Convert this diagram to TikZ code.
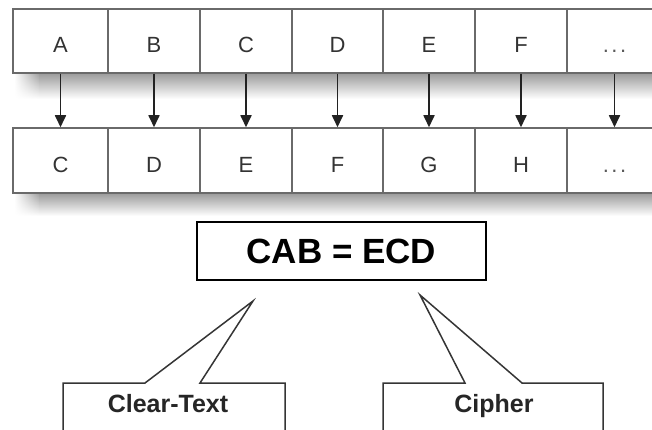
\documentclass[tikz,border=0pt]{standalone}
\usepackage{fontspec}
\setmainfont{Liberation Sans}
\usetikzlibrary{arrows.meta,fadings}

\definecolor{cellgray}{HTML}{6A6A6A}
\definecolor{lettergray}{HTML}{333333}
\definecolor{dotgray}{HTML}{5A5A5A}
\definecolor{arrowgray}{HTML}{222222}
\definecolor{calloutline}{HTML}{353535}
\definecolor{shadowgray}{HTML}{9A9A9A}

% soft entry of the shadow band on its left end
\tikzfading[name=shadowentry, left color=transparent!100, right color=transparent!0]

\newcommand{\celldots}{\textcolor{dotgray}{.\kern2.5pt.\kern2.5pt.}}

\begin{document}
\begin{tikzpicture}[x=1pt,y=-1pt,
  shadowband/.style={top color=shadowgray, bottom color=white, draw=none},
  cell/.style={rectangle, draw=cellgray, line width=1.5pt, fill=white,
    inner sep=0pt, text height=24pt, text depth=0pt,
    font=\fontsize{22}{22}\selectfont, text=lettergray},
  arr/.style={draw=arrowgray, line width=1.7pt,
    -{Triangle[width=11pt,length=12pt]}},
  eqbox/.style={rectangle, draw=black, line width=1.6pt, fill=white,
    minimum width=289pt, minimum height=58pt, inner sep=0pt,
    font=\bfseries\fontsize{35}{35}\selectfont},
  calloutshape/.style={draw=calloutline, line width=1.5pt, fill=white,
    line join=miter},
  callouttext/.style={anchor=base, inner sep=0pt, text=black!85,
    font=\bfseries\fontsize{25}{25}\selectfont}
]
\useasboundingbox (0,0) rectangle (652,430);
\clip (0,0) rectangle (652,430);

% drop shadows beneath the two rows
\foreach \ytop/\ybot in {73/99, 193/216}{
  \shade[shadowband, path fading=shadowentry] (14,\ytop) rectangle (40,\ybot);
  \shade[shadowband] (39.5,\ytop) rectangle (662,\ybot);
}

% the two alphabets, shifted by two letters
\foreach \l/\r/\p/\c [count=\i] in
  {13/108/A/C, 108/200/B/D, 200/292/C/E, 292/383/D/F,
   383/475/E/G, 475/567/F/H, 567/662/\celldots/\celldots}
{
  \node[cell, minimum width={\r-\l}, minimum height=64pt]
    (t\i) at ({(\l+\r)/2},41) {\p};
  \node[cell, minimum width={\r-\l}, minimum height=65pt]
    (b\i) at ({(\l+\r)/2},160.5) {\c};
}

% mapping arrows
\foreach \i in {1,...,7}
  \draw[arr] (t\i) -- (b\i);

% encrypted word
\node[eqbox] (eq) at (341.5,251) {CAB = ECD};

% callout for the clear text
\coordinate (cttip) at (253,301);
\draw[calloutshape] (63,445) -- (63,383) -- (145,383) -- (cttip)
  -- (200,383) -- (285,383) -- (285,445);
\node[callouttext] (ct) at (168,412) {Clear-Text};

% callout for the cipher
\coordinate (cptip) at (420,295);
\draw[calloutshape] (383,445) -- (383,383) -- (465,383) -- (cptip)
  -- (522,383) -- (603,383) -- (603,445);
\node[callouttext] (cp) at (494,412) {Cipher};
\end{tikzpicture}
\end{document}
